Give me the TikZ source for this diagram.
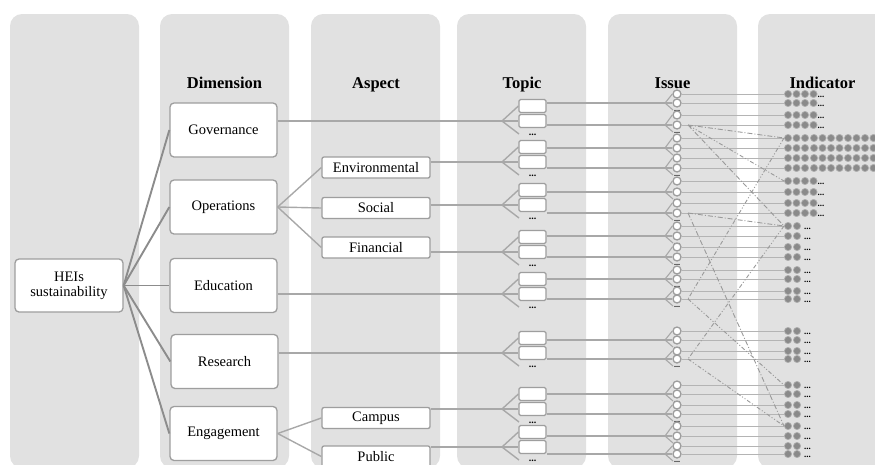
\documentclass[tikz,border=0pt]{standalone}
\usepackage{fontspec}
\setmainfont{Liberation Serif}
\definecolor{colbg}{HTML}{E1E1E1}
\definecolor{boxc}{HTML}{9E9E9E}
\definecolor{heic}{HTML}{8C8C8C}
\definecolor{connc}{HTML}{A8A8A8}
\definecolor{indc}{HTML}{B4B4B4}
\definecolor{crossc}{HTML}{9A9A9A}
\definecolor{dotf}{HTML}{8A8A8A}
\definecolor{dotd}{HTML}{B0B0B0}
\begin{document}
\begin{tikzpicture}[x=1pt,y=-1pt,
  hdr/.style={anchor=base, inner sep=0pt, font=\fontsize{16.5}{18}\selectfont\bfseries},
  bigbox/.style={draw=boxc, line width=1.3pt, fill=white, rounded corners=4pt, minimum width=107pt, minimum height=54pt, inner sep=0pt, font=\fontsize{14.5}{15}\selectfont, align=center},
  aspbox/.style={draw=boxc, line width=1.3pt, fill=white, rounded corners=2pt, minimum width=108pt, minimum height=21pt, inner sep=0pt, font=\fontsize{14.5}{15}\selectfont},
  tbox/.style={draw=boxc, line width=1.2pt, fill=white, rounded corners=1.5pt, minimum width=27pt, minimum height=13pt, inner sep=0pt},
  tdots/.style={anchor=base, inner sep=0pt, text height=1.5pt, text depth=0pt, font=\fontsize{10}{10}\selectfont\bfseries},
  idotsf/.style={anchor=base, inner sep=0pt, text height=1.5pt, text depth=0pt, font=\fontsize{8}{8}\selectfont\bfseries},
  edots/.style={anchor=base west, inner sep=0pt, text height=1.5pt, text depth=0pt, font=\fontsize{9}{9}\selectfont\bfseries},
  icirc/.style={circle, draw=boxc, line width=1.3pt, fill=white, minimum size=8pt, inner sep=0pt},
  heiline/.style={draw=heic, line width=1.9pt},
  conn/.style={draw=connc, line width=1.4pt},
  iline/.style={draw=indc, line width=1pt},
  idot/.style={fill=dotf, draw=dotd, line width=0.7pt},
  dashdotline/.style={draw=crossc, line width=0.9pt, dash pattern=on 5pt off 2pt on 1pt off 2pt},
  dashdotdotline/.style={draw=crossc, line width=0.9pt, dash pattern=on 4pt off 2pt on 1pt off 2pt on 1pt off 2pt}
]
\path[use as bounding box] (0,0) rectangle (875,464);
\clip (0,0) rectangle (875,464);
% columns
\foreach \x in {10,160,311,457,608,758}
  \fill[colbg, rounded corners=12pt] (\x,14) rectangle ++(129,454);
% headers
\node[hdr] (hdim) at (224.5,88) {Dimension};
\node[hdr] (hasp) at (376,88) {Aspect};
\node[hdr] (htop) at (522,88) {Topic};
\node[hdr] (hiss) at (672.5,88) {Issue};
\node[hdr] (hind) at (822.5,88) {Indicator};
% main boxes
\node[bigbox, minimum width=108pt, minimum height=53pt] (hei) at (69,285.5) {HEIs\\sustainability};
\node[bigbox] (gov) at (223.5,130) {Governance};
\node[bigbox] (ope) at (223.5,207) {Operations};
\node[bigbox] (edu) at (223.5,285.5) {Education};
\node[bigbox] (res) at (224.5,361.5) {Research};
\node[bigbox] (eng) at (223.5,433.5) {Engagement};
% aspect boxes
\node[aspbox] (env) at (376,167.5) {Environmental};
\node[aspbox] (soc) at (376,208) {Social};
\node[aspbox] (fin) at (376,247.5) {Financial};
\node[aspbox] (cam) at (376,418) {Campus};
\node[aspbox] (pub) at (376,456.5) {Public};
% connectors from HEIs
\foreach \n in {gov,ope,edu,res,eng}
  \draw[heiline] (hei.east) -- (\n.west);
\foreach \n in {env,soc,fin}
  \draw[conn] (ope.east) -- (\n.west);
\foreach \n in {cam,pub}
  \draw[conn] (eng.east) -- (\n.west);
% topic groups
\foreach \g/\y/\s in {1/121/gov,2/162/env,3/205/soc,4/252/fin,5/294/edu,6/353/res,7/409/cam,8/447/pub} {
  \coordinate (ta\g) at (502,\y);
  \coordinate (tl\g) at (519,\y+13);
  \draw[conn] (ta\g -| \s.east) -- (ta\g);
  \node[tbox] (t\g a) at (532.5,\y-15) {};
  \node[tbox] (t\g b) at (532.5,\y) {};
  \node[tdots] (t\g d) at (532.5,\y+14) {...};
  \draw[conn] (ta\g) -- (t\g a.west);
  \draw[conn] (ta\g) -- (t\g b.west);
  \draw[conn] (ta\g) -- (tl\g);
}
% issue groups
\foreach \k/\ra/\rb/\src in {1/94/103/t1a, 2/115/125/t1b, 3/138/148/t2a, 4/158/168/t2b, 5/181/192/t3a, 6/203/213/t3b, 7/226/236/t4a, 8/247/257/t4b, 9/270/279/t5a, 10/291/299/t5b, 11/331/340/t6a, 12/351/359/t6b, 13/385/394/t7a, 14/405/414/t7b, 15/426/436/t8a, 16/446/454/t8b} {
  \coordinate (ia\k) at (665,\rb);
  \coordinate (il\k) at (673,\rb+7);
  \coordinate (va\k) at (688,\ra);
  \coordinate (vb\k) at (688,\rb);
  \coordinate (da\k) at (784,\ra);
  \coordinate (db\k) at (784,\rb);
  \draw[conn] (ia\k -| \src.east) -- (ia\k);
  \node[icirc] (c\k a) at (677,\ra) {};
  \node[icirc] (c\k b) at (677,\rb) {};
  \draw[conn, line width=1.1pt] (ia\k) -- (c\k a.west);
  \draw[conn, line width=1.1pt] (ia\k) -- (c\k b.west);
  \draw[conn, line width=1.1pt] (ia\k) -- (il\k);
  \node[idotsf] (cd\k) at (677,\rb+8.5) {...};
  \draw[iline] (c\k a.east) -- (da\k);
  \draw[iline] (c\k b.east) -- (db\k);
}
% indicator dots
\foreach \y in {94,103,115,125,181,192,203,213} {
  \foreach \x in {788,796.5,805,813.5}
    \filldraw[idot] (\x,\y) circle (3.6);
  \node[edots] (e\y) at (817.5,\y+3.5) {...};
}
\foreach \y in {138,148,158,168} {
  \foreach \x in {788,796.5,805,814,822.5,831,839.5,848,856.5,865,873.5}
    \filldraw[idot] (\x,\y) circle (3.6);
}
\foreach \y in {226,236,247,257,270,279,291,299,331,340,351,359,385,394,405,414,426,436,446,454} {
  \foreach \x in {788,797}
    \filldraw[idot] (\x,\y) circle (3.6);
  \node[edots] (e\y) at (804,\y+3.5) {...};
}
% cross links
\draw[dashdotline] (vb2) -- (da3);
\draw[dashdotdotline] (vb2) -- (da5);
\draw[dashdotline] (vb2) -- (da7);
\draw[dashdotdotline] (da3) -- (vb10);
\draw[dashdotline] (vb6) -- (da7);
\draw[dashdotline] (vb6) -- (da15);
\draw[dashdotdotline] (da7) -- (vb12);
\draw[dashdotdotline] (vb10) -- (da13);
\draw[dashdotdotline] (vb12) -- (da15);
\end{tikzpicture}
\end{document}
